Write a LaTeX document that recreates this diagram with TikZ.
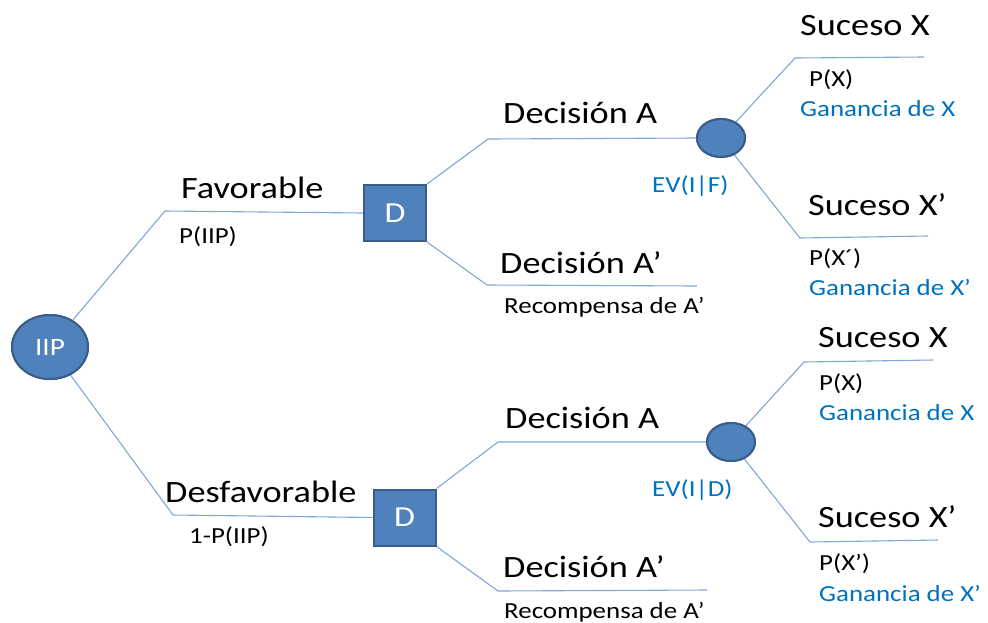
\documentclass[tikz,border=0pt]{standalone}
\usepackage{fontspec}
\usetikzlibrary{shapes.geometric}
\newfontfamily\calfont[FakeStretch=1.17]{Carlito}
\definecolor{nodefill}{HTML}{4F81BD}
\definecolor{nodeedge}{HTML}{385D8A}
\definecolor{branchcol}{HTML}{7FA6D6}
\definecolor{valuecol}{HTML}{0070C0}
\tikzset{
  branch/.style={draw=branchcol, line width=1.1pt},
  decisionbox/.style={draw=nodeedge, fill=nodefill, line width=2pt, minimum width=62pt, minimum height=56pt, inner sep=0pt, text=white, font=\calfont\fontsize{29}{34}\selectfont},
  chance/.style={ellipse, draw=nodeedge, fill=nodefill, line width=2pt, minimum width=48pt, minimum height=38pt, inner sep=0pt},
  rootnode/.style={ellipse, draw=nodeedge, fill=nodefill, line width=2pt, minimum width=76pt, minimum height=64pt, inner sep=0pt, text=white, font=\calfont\fontsize{25}{30}\selectfont},
  bigtxt/.style={anchor=base west, inner sep=0pt, font=\calfont\fontsize{31}{37}\selectfont},
  smalltxt/.style={anchor=base west, inner sep=0pt, font=\calfont\fontsize{23}{28}\selectfont},
  valtxt/.style={smalltxt, text=valuecol},
}
\begin{document}
\begin{tikzpicture}[x=1pt, y=-1pt]
\useasboundingbox (0,0) rectangle (988,622);

% nodes of the tree
\node[rootnode] (iip) at (50,347) {IIP};
\node[decisionbox] (d1) at (395,213) {D};
\node[decisionbox] (d2) at (404.5,517.5) {D};
\node[chance] (ev1) at (721,138) {};
\node[chance] (ev2) at (731,442) {};

% bends and free ends of the branches
\coordinate (fav) at (165,211);
\coordinate (desf) at (173,515);
\coordinate (a1) at (488,139);
\coordinate (ap1) at (487,285);
\coordinate (ap1end) at (697,286);
\coordinate (a2) at (498,442);
\coordinate (ap2) at (498,591);
\coordinate (ap2end) at (707,590);
\coordinate (x1) at (795,58);
\coordinate (x1end) at (924,57);
\coordinate (xp1) at (800,238);
\coordinate (xp1end) at (928,236);
\coordinate (x2) at (804,362);
\coordinate (x2end) at (933,360);
\coordinate (xp2) at (810,542);
\coordinate (xp2end) at (938,540);

% branches
\draw[branch] (iip) -- (fav) -- (d1.west);
\draw[branch] (iip) -- (desf) -- (d2.west);
\draw[branch] (d1.north east) -- (a1) -- (ev1.west);
\draw[branch] (d1.south east) -- (ap1) -- (ap1end);
\draw[branch] (d2.north east) -- (a2) -- (ev2.west);
\draw[branch] (d2.south east) -- (ap2) -- (ap2end);
\draw[branch] (ev1) -- (x1) -- (x1end);
\draw[branch] (ev1) -- (xp1) -- (xp1end);
\draw[branch] (ev2) -- (x2) -- (x2end);
\draw[branch] (ev2) -- (xp2) -- (xp2end);

% redraw nodes above the branches
\node[rootnode] at (iip) {IIP};
\node[decisionbox] at (d1) {D};
\node[decisionbox] at (d2) {D};
\node[chance] at (ev1) {};
\node[chance] at (ev2) {};

% labels
\node[bigtxt] (lfav) at (181,198) {Favorable};
\node[smalltxt] (pfav) at (179,243) {P(IIP)};
\node[bigtxt] (ldesf) at (165,502) {Desfavorable};
\node[smalltxt] (pdesf) at (189,543) {1-P(IIP)};

\node[bigtxt] (la1) at (503,123) {Decisión A};
\node[bigtxt] (lap1) at (500,273) {Decisión A’};
\node[smalltxt] (rap1) at (504,313) {Recompensa de A’};
\node[valtxt] (evf) at (652,192) {EV(I|F)};

\node[bigtxt] (la2) at (505,428) {Decisión A};
\node[bigtxt] (lap2) at (503,577) {Decisión A’};
\node[smalltxt] (rap2) at (504,618) {Recompensa de A’};
\node[valtxt] (evd) at (652,496) {EV(I|D)};

\node[bigtxt] (sx1) at (800,35) {Suceso X};
\node[smalltxt] (px1) at (809,86) {P(X)};
\node[valtxt] (gx1) at (800,116) {Ganancia de X};
\node[bigtxt] (sxp1) at (808,215) {Suceso X’};
\node[smalltxt] (pxp1) at (809,265) {P(X´)};
\node[valtxt] (gxp1) at (809,295) {Ganancia de X’};

\node[bigtxt] (sx2) at (818,347) {Suceso X};
\node[smalltxt] (px2) at (819,390) {P(X)};
\node[valtxt] (gx2) at (819,420) {Ganancia de X};
\node[bigtxt] (sxp2) at (818,527) {Suceso X’};
\node[smalltxt] (pxp2) at (819,570) {P(X’)};
\node[valtxt] (gxp2) at (819,601) {Ganancia de X’};
\end{tikzpicture}
\end{document}
